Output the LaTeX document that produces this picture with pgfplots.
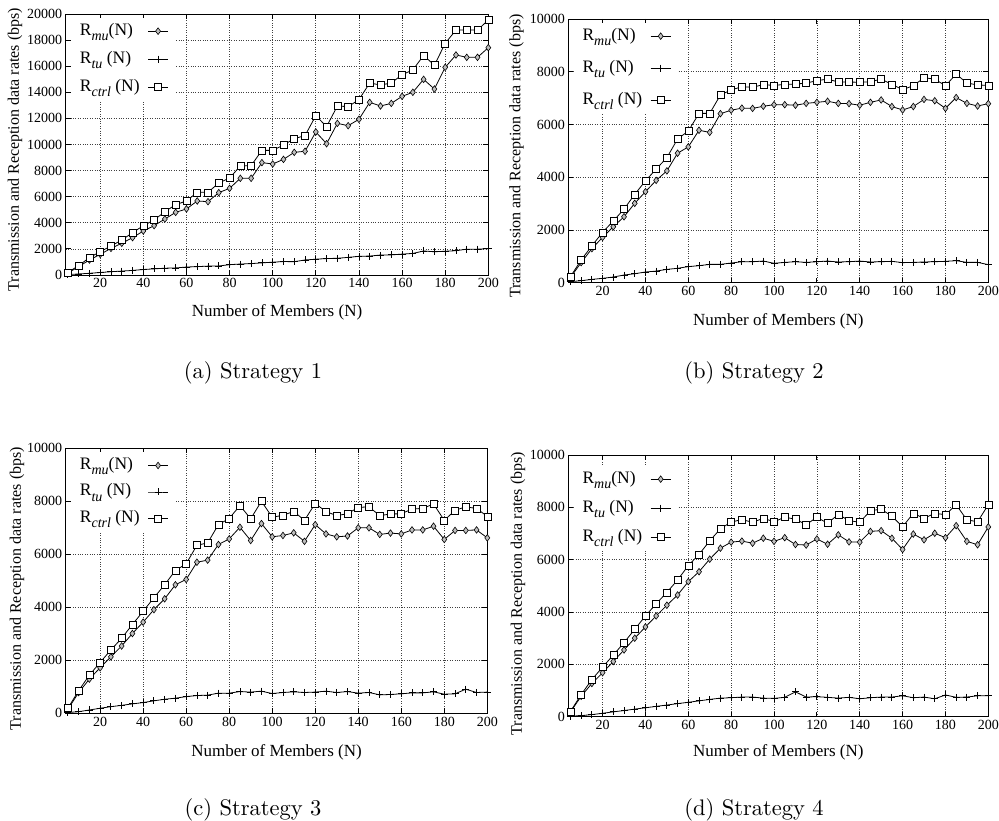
\documentclass[border=0pt]{standalone}
\usepackage{fontspec}
\usepackage{pgfplots}
\usepackage{pgfplotstable}
\pgfplotsset{compat=1.18}
\newfontfamily\tfont{Liberation Serif}
\newcommand{\sub}[1]{\raisebox{-0.3em}{\fontsize{14}{14}\selectfont\itshape #1}}

\pgfplotstableread{
x mu tu ctrl
5 150 30 200
10 640 80 715
15 1150 130 1330
20 1580 190 1790
25 2040 250 2220
30 2430 300 2680
35 2860 350 3240
40 3370 420 3780
45 3780 470 4215
50 4290 520 4850
55 4800 540 5390
60 5060 610 5670
65 5670 640 6335
70 5620 680 6335
75 6310 690 7050
80 6640 790 7430
85 7410 840 8350
90 7410 870 8380
95 8610 930 9550
100 8505 980 9550
105 8860 1030 9960
110 9400 1020 10450
115 9480 1150 10680
120 10960 1210 12210
125 10060 1260 11370
130 11620 1280 12950
135 11440 1350 12900
140 11930 1430 13435
145 13230 1450 14710
150 12950 1530 14560
155 13150 1540 14710
160 13690 1600 15350
165 14000 1650 15710
170 14990 1840 16830
175 14250 1780 16070
180 15910 1820 17750
185 16860 1860 18770
190 16680 1980 18770
195 16680 1980 18770
200 17420 2020 19540
}\tabA

\pgfplotstableread{
x mu tu ctrl
5 200 40 230
10 760 75 860
15 1290 125 1400
20 1720 165 1910
25 2120 215 2340
30 2500 290 2790
35 3010 340 3350
40 3450 405 3860
45 3880 440 4310
50 4240 505 4740
55 4910 545 5450
60 5150 610 5750
65 5780 645 6420
70 5700 695 6420
75 6410 695 7120
80 6540 745 7310
85 6620 795 7430
90 6610 795 7410
95 6690 820 7510
100 6750 735 7480
105 6750 770 7520
110 6730 795 7530
115 6800 770 7570
120 6840 795 7660
125 6880 820 7720
130 6800 785 7610
135 6790 795 7610
140 6730 820 7600
145 6840 785 7620
150 6930 795 7720
155 6680 810 7520
160 6550 760 7320
165 6680 770 7470
170 6950 785 7770
175 6900 795 7720
180 6610 810 7470
185 7020 835 7910
190 6800 770 7570
195 6700 770 7500
200 6790 685 7480
}\tabB

\pgfplotstableread{
x mu tu ctrl
5 150 30 190
10 780 60 850
15 1290 125 1440
20 1720 190 1920
25 2130 250 2390
30 2540 300 2830
35 3010 355 3350
40 3440 405 3850
45 3910 470 4360
50 4320 530 4850
55 4850 570 5390
60 5050 630 5640
65 5700 670 6340
70 5780 685 6430
75 6370 760 7120
80 6580 760 7350
85 7020 820 7840
90 6520 800 7340
95 7160 835 8000
100 6660 745 7400
105 6710 785 7470
110 6810 810 7620
115 6490 785 7280
120 7120 800 7920
125 6770 835 7610
130 6660 785 7460
135 6690 820 7530
140 7000 760 7770
145 7000 785 7790
150 6750 695 7460
155 6800 710 7520
160 6770 735 7530
165 6920 770 7710
170 6920 770 7730
175 7060 810 7900
180 6560 720 7280
185 6900 735 7660
190 6900 910 7790
195 6920 785 7730
200 6620 800 7430
}\tabC

\pgfplotstableread{
x mu tu ctrl
5 180 20 200
10 780 40 845
15 1270 80 1420
20 1680 130 1895
25 2110 185 2355
30 2550 235 2830
35 3000 290 3340
40 3430 340 3850
45 3850 395 4315
50 4260 445 4750
55 4650 500 5225
60 5160 550 5775
65 5540 605 6200
70 6020 660 6720
75 6440 710 7180
80 6670 725 7440
85 6710 750 7530
90 6630 750 7430
95 6820 710 7580
100 6700 700 7450
105 6840 740 7620
110 6580 950 7550
115 6560 750 7340
120 6790 765 7620
125 6590 740 7390
130 6950 710 7730
135 6680 740 7490
140 6670 685 7430
145 7080 725 7870
150 7110 750 7930
155 6820 750 7660
160 6390 800 7260
165 6980 725 7770
170 6760 750 7580
175 7010 685 7770
180 6840 830 7720
185 7300 740 8100
190 6700 750 7520
195 6570 800 7450
200 7250 800 8100
}\tabD

\pgfplotsset{
 gp/.style={
  scale only axis, anchor=south west,
  xmin=4, xmax=200, ymin=0,
  xtick={20,40,...,200},
  grid=major, grid style={dotted, black!75, line width=0.7pt},
  axis line style={line width=0.8pt},
  major tick length=5pt, tick style={black, line width=0.8pt},
  tick label style={font=\tfont\fontsize{14}{16}\selectfont},
  /pgf/number format/assume math mode=true,
  /pgf/number format/1000 sep={},
  scaled y ticks=false,
  xlabel={Number of Members (N)},
  ylabel={Transmission and Reception data rates (bps)},
  xlabel style={font=\tfont\fontsize{17}{20}\selectfont, at={(axis description cs:0.5,-0.143)}, anchor=center},
  ylabel style={font=\tfont\fontsize{16}{19}\selectfont, at={(axis description cs:-0.12,0.48)}, anchor=center},
  legend cell align=left, legend plot pos=right,
  legend style={at={(axis description cs:0,1)}, anchor=north west, xshift=5pt, yshift=-4pt, fill=white, draw=none, inner xsep=7pt, inner ysep=2pt, font=\tfont\fontsize{17.5}{20}\selectfont, column sep=6pt, row sep=6pt,
    nodes={text height=13pt, text depth=5pt, inner sep=2pt}},
  legend image code/.code={\draw[mark repeat=2, mark phase=2, #1] plot coordinates {(0pt,0pt) (10pt,0pt) (20pt,0pt)};},
  every axis plot/.append style={black, line width=0.8pt},
 },
 mu/.style={mark=diamond*, mark size=3.3pt, mark options={solid, fill=gray!50, line width=0.6pt}},
 tu/.style={mark=+, mark size=3.5pt, mark options={line width=0.8pt}},
 ctrl/.style={mark=square*, mark size=3.5pt, mark options={fill=white, line width=0.6pt}},
}

\begin{document}
\begin{tikzpicture}
\useasboundingbox (0pt,0pt) rectangle (999pt,821pt);

% (a)
\begin{axis}[gp, at={(65.7pt,546pt)}, width=422.6pt, height=261pt,
  ymax=20000, ytick={0,2000,...,20000},
  legend style={row sep=6pt}]
\addplot[mu] table[x=x,y=mu]{\tabA};
\addlegendentry{R\sub{mu}(N)}
\addplot[tu] table[x=x,y=tu]{\tabA};
\addlegendentry{R\sub{tu} (N)}
\addplot[ctrl] table[x=x,y=ctrl]{\tabA};
\addlegendentry{R\sub{ctrl} (N)}
\end{axis}

% (b)
\begin{axis}[gp, at={(568.3pt,538.3pt)}, width=420pt, height=263.7pt,
  ymax=10000, ytick={0,2000,...,10000},
  legend style={row sep=10pt},
  xlabel style={at={(axis description cs:0.5,-0.145)}},
  ylabel style={at={(axis description cs:-0.123,0.48)}}]
\addplot[mu] table[x=x,y=mu]{\tabB};
\addlegendentry{R\sub{mu}(N)}
\addplot[tu] table[x=x,y=tu]{\tabB};
\addlegendentry{R\sub{tu} (N)}
\addplot[ctrl] table[x=x,y=ctrl]{\tabB};
\addlegendentry{R\sub{ctrl} (N)}
\end{axis}

% (c)
\begin{axis}[gp, at={(65.7pt,107.7pt)}, width=421.6pt, height=265pt,
  ymax=10000, ytick={0,2000,...,10000},
  legend style={row sep=4.5pt},
  xlabel style={at={(axis description cs:0.5,-0.146)}},
  ylabel style={at={(axis description cs:-0.1155,0.47)}}]
\addplot[mu] table[x=x,y=mu]{\tabC};
\addlegendentry{R\sub{mu}(N)}
\addplot[tu] table[x=x,y=tu]{\tabC};
\addlegendentry{R\sub{tu} (N)}
\addplot[ctrl] table[x=x,y=ctrl]{\tabC};
\addlegendentry{R\sub{ctrl} (N)}
\end{axis}

% (d)
\begin{axis}[gp, at={(568.3pt,104.3pt)}, width=420pt, height=261.7pt,
  ymax=10000, ytick={0,2000,...,10000},
  legend style={row sep=7pt, yshift=-7pt},
  xlabel style={at={(axis description cs:0.5,-0.135)}},
  ylabel style={at={(axis description cs:-0.12,0.47)}}]
\addplot[mu] table[x=x,y=mu]{\tabD};
\addlegendentry{R\sub{mu}(N)}
\addplot[tu] table[x=x,y=tu]{\tabD};
\addlegendentry{R\sub{tu} (N)}
\addplot[ctrl] table[x=x,y=ctrl]{\tabD};
\addlegendentry{R\sub{ctrl} (N)}
\end{axis}

\node[scale=2.25, font=\fontsize{10}{12}\selectfont] at (253pt,448pt) {(a) Strategy 1};
\node[scale=2.25, font=\fontsize{10}{12}\selectfont] at (754pt,448pt) {(b) Strategy 2};
\node[scale=2.25, font=\fontsize{10}{12}\selectfont] at (253pt,11pt) {(c) Strategy 3};
\node[scale=2.25, font=\fontsize{10}{12}\selectfont] at (754pt,11pt) {(d) Strategy 4};
\end{tikzpicture}
\end{document}
